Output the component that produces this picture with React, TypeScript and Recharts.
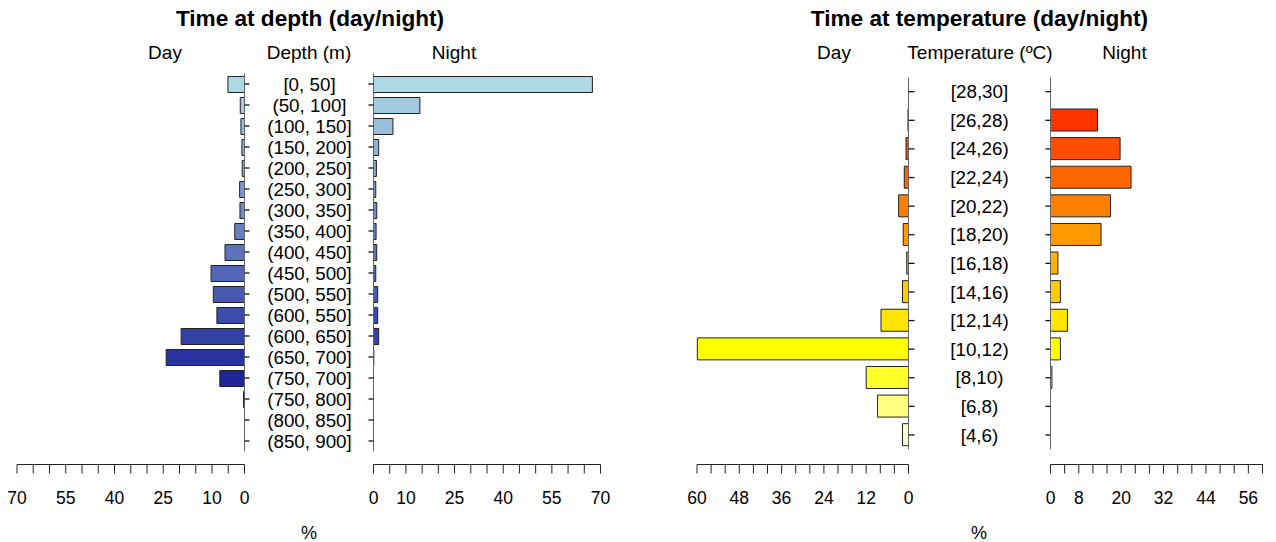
import React from 'react';
import { BarChart, Bar, XAxis, YAxis, Cell } from 'recharts';

// ---------- DATA ----------
const depthCategories = [
  '[0, 50]', '(50, 100]', '(100, 150]', '(150, 200]', '(200, 250]', '(250, 300]',
  '(300, 350]', '(350, 400]', '(400, 450]', '(450, 500]', '(500, 550]', '(600, 550]',
  '(600, 650]', '(650, 700]', '(750, 700]', '(750, 800]', '(800, 850]', '(850, 900]',
];
const depthDay = [5.1, 1.3, 1.1, 0.8, 0.7, 1.5, 1.4, 3.0, 6.0, 10.3, 9.6, 8.5, 19.5, 24.1, 7.6, 0.3, 0, 0];
const depthNight = [67.5, 14.3, 6.0, 1.6, 0.9, 0.7, 1.0, 0.8, 1.0, 0.7, 1.3, 1.3, 1.6, 0.1, 0, 0, 0, 0];
const depthTicks = [0, 5, 10, 15, 20, 25, 30, 35, 40, 45, 50, 55, 60, 65, 70];
const depthTickLabels = [0, 10, 25, 40, 55, 70];

const tempCategories = [
  '[28,30]', '[26,28)', '[24,26)', '[22,24)', '[20,22)', '[18,20)', '[16,18)',
  '[14,16)', '[12,14)', '[10,12)', '[8,10)', '[6,8)', '[4,6)',
];
const tempDay = [0, 0.15, 0.7, 1.2, 2.8, 1.5, 0.5, 1.7, 7.8, 59.9, 12.0, 8.8, 1.7];
const tempNight = [0, 13.3, 19.7, 22.8, 17.0, 14.3, 2.1, 2.8, 4.8, 2.8, 0.4, 0, 0];
const tempTicks = [0, 4, 8, 12, 16, 20, 24, 28, 32, 36, 40, 44, 48, 52, 56, 60];
const tempDayTickLabels = [0, 12, 24, 36, 48, 60];
const tempNightTickLabels = [0, 8, 20, 32, 44, 56];

// ---------- STYLE ----------
const depthColors = [
  '#ADD8E6', '#A3CBE1', '#99BFDB', '#8EB2D6', '#84A5D1', '#7A98CB', '#708CC6', '#667FC1', '#5C72BB',
  '#5166B6', '#4759B0', '#3D4CAB', '#3340A6', '#2933A0', '#1F269B', '#141996', '#0A0D90', '#00008B',
];
const tempColors = [
  '#FF1800', '#FF3300', '#FF4D00', '#FF6600', '#FF8000', '#FF9900', '#FFB300',
  '#FFCC00', '#FFE500', '#FFFF00', '#FFFF2A', '#FFFF80', '#FFFFD5',
];

const W = 1276;
const H = 542;
const FONT = '"Liberation Sans", Arial, Helvetica, sans-serif';
const AXIS_Y = 464.5;
const XAXIS_H = 60;
const YAXIS_W = 10;

const depthData = depthCategories.map((c, i) => ({ label: c, day: depthDay[i], night: depthNight[i] }));
const tempData = tempCategories.map((c, i) => ({ label: c, day: tempDay[i], night: tempNight[i] }));

type SideProps = {
  data: any[];
  valueKey: string;
  isDay: boolean;
  plotLeft: number;
  plotRight: number;
  plotTop: number;
  plotBottom: number;
  domainMax: number;
  ticks: number[];
  tickLabels: number[];
  colors: string[];
  barSize: number;
  labelX?: number;
  yTickSize: number;
};

function Side(p: SideProps) {
  const margin = p.isDay
    ? { top: p.plotTop, left: p.plotLeft, right: W - p.plotRight - YAXIS_W, bottom: H - AXIS_Y - XAXIS_H }
    : { top: p.plotTop, left: p.plotLeft - YAXIS_W, right: W - p.plotRight, bottom: H - AXIS_Y - XAXIS_H };
  const spacer = AXIS_Y - p.plotBottom;
  const catTick = (props: any) => {
    if (p.labelX === undefined) return <g />;
    return (
      <text x={p.labelX} y={props.y} dy="0.35em" textAnchor="middle" fontSize={18.8} fontFamily={FONT} fill="#000">
        {props.payload.value}
      </text>
    );
  };
  return (
    <div style={{ position: 'absolute', left: 0, top: 0, width: W, height: H }}>
      <BarChart width={W} height={H} data={p.data} layout="vertical" margin={margin} barCategoryGap={0}>
        <XAxis
          xAxisId="a_spacer"
          type="number"
          domain={[0, p.domainMax]}
          reversed={p.isDay}
          height={spacer}
          axisLine={false}
          tickLine={false}
          tick={false}
        />
        <XAxis
          xAxisId="b_scale"
          type="number"
          domain={[0, p.domainMax]}
          reversed={p.isDay}
          height={XAXIS_H}
          ticks={p.ticks}
          interval={0}
          tickSize={9}
          tickMargin={18}
          axisLine={{ stroke: '#222', strokeWidth: 1 }}
          tickLine={{ stroke: '#222', strokeWidth: 1 }}
          tick={{ fontSize: 17.5, fill: '#000', fontFamily: FONT }}
          tickFormatter={(v: number) => (p.tickLabels.includes(v) ? String(v) : '')}
        />
        <YAxis
          type="category"
          dataKey="label"
          orientation={p.isDay ? 'right' : 'left'}
          width={YAXIS_W}
          interval={0}
          tickSize={p.yTickSize}
          axisLine={{ stroke: '#666', strokeWidth: 1 }}
          tickLine={{ stroke: '#111', strokeWidth: 1.3 }}
          tick={catTick}
        />
        <Bar xAxisId="b_scale" dataKey={p.valueKey} barSize={p.barSize} stroke="#222" strokeWidth={1} isAnimationActive={false}>
          {p.data.map((_, i) => (
            <Cell key={i} fill={p.colors[i]} />
          ))}
        </Bar>
      </BarChart>
    </div>
  );
}

const depthTop = 73.5;
const depthBottom = 451.5;
const tempTop = 77.4;
const tempBottom = 449.3;

export default function App() {
  const texts = [
    { t: 'Time at depth (day/night)', x: 310, y: 18, s: 22.6, b: true },
    { t: 'Day', x: 165, y: 52, s: 19 },
    { t: 'Depth (m)', x: 309, y: 52, s: 19 },
    { t: 'Night', x: 454, y: 52, s: 19 },
    { t: '%', x: 309, y: 533, s: 18 },
    { t: 'Time at temperature (day/night)', x: 979.5, y: 18, s: 22.6, b: true },
    { t: 'Day', x: 834, y: 52, s: 19 },
    { t: 'Temperature (\u00BAC)', x: 980, y: 52, s: 19 },
    { t: 'Night', x: 1124.5, y: 52, s: 19 },
    { t: '%', x: 979, y: 533, s: 18 },
  ];
  return (
    <div style={{ position: 'absolute', left: 0, top: 0, width: W, height: H, background: '#fff', overflow: 'hidden' }}>
      <Side data={depthData} valueKey="day" isDay plotLeft={17} plotRight={244.5} plotTop={depthTop} plotBottom={depthBottom}
        domainMax={70} ticks={depthTicks} tickLabels={depthTickLabels} colors={depthColors} barSize={16} labelX={309.5} yTickSize={5} />
      <Side data={depthData} valueKey="night" isDay={false} plotLeft={373.5} plotRight={600.5} plotTop={depthTop} plotBottom={depthBottom}
        domainMax={70} ticks={depthTicks} tickLabels={depthTickLabels} colors={depthColors} barSize={16} yTickSize={5} />
      <Side data={tempData} valueKey="day" isDay plotLeft={697} plotRight={908.5} plotTop={tempTop} plotBottom={tempBottom}
        domainMax={60} ticks={tempTicks} tickLabels={tempDayTickLabels} colors={tempColors} barSize={22} labelX={979.5} yTickSize={6} />
      <Side data={tempData} valueKey="night" isDay={false} plotLeft={1050.5} plotRight={1262.5} plotTop={tempTop} plotBottom={tempBottom}
        domainMax={60} ticks={tempTicks} tickLabels={tempNightTickLabels} colors={tempColors} barSize={22} yTickSize={5} />
      <svg width={W} height={H} style={{ position: 'absolute', left: 0, top: 0, pointerEvents: 'none' }}>
        {texts.map((d, i) => (
          <text key={i} x={d.x} y={d.y} dy="0.35em" textAnchor="middle" fontSize={d.s} fontWeight={d.b ? 'bold' : 'normal'} fontFamily={FONT} fill="#000">
            {d.t}
          </text>
        ))}
      </svg>
    </div>
  );
}
